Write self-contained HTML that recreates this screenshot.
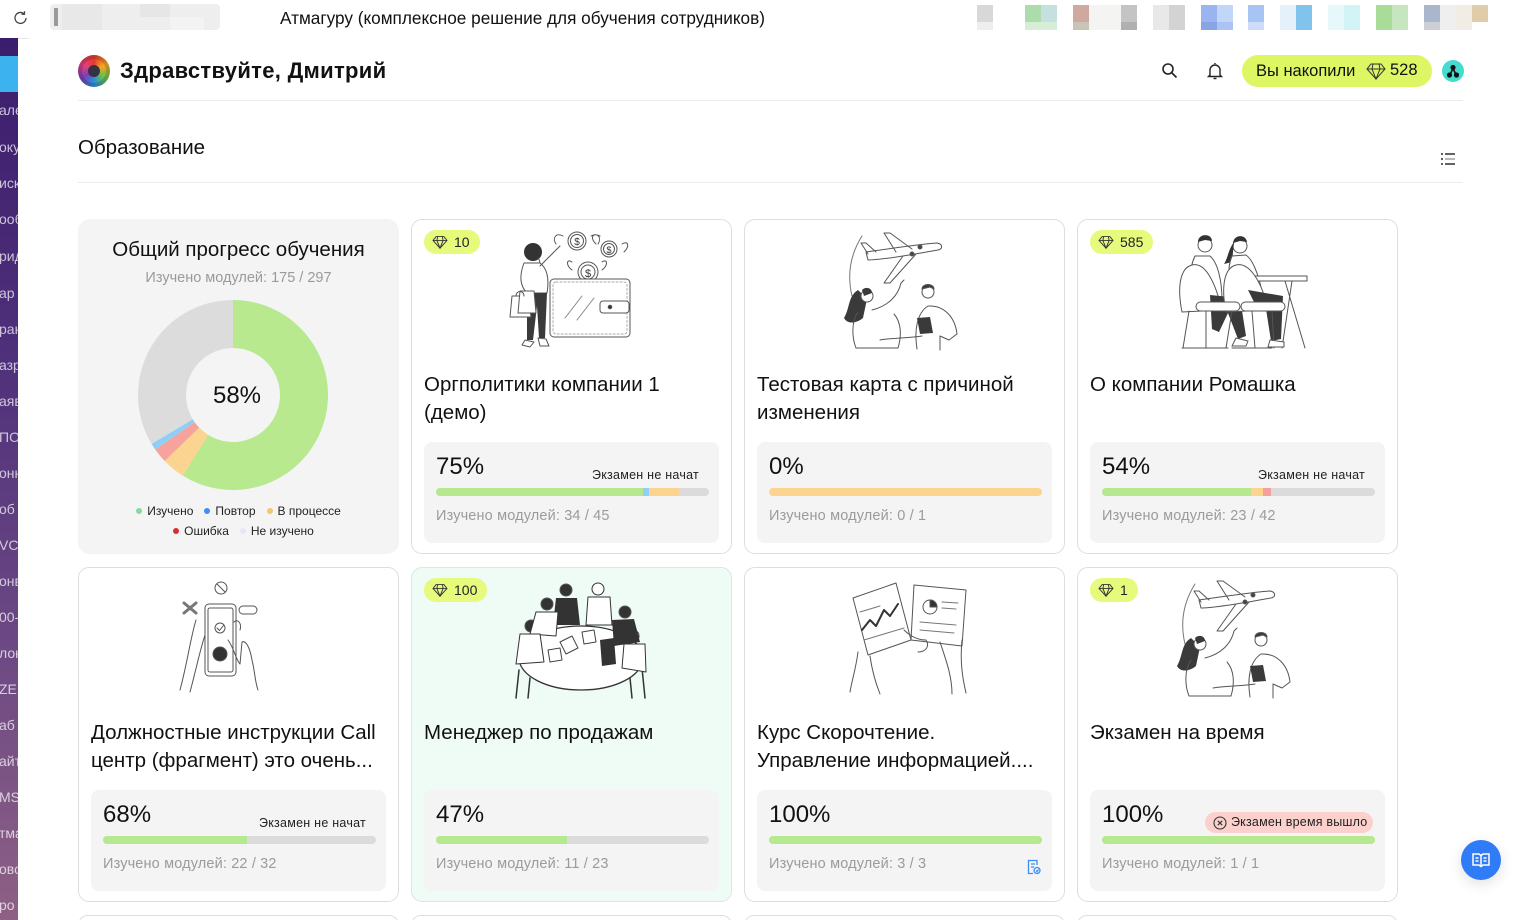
<!DOCTYPE html>
<html><head><meta charset="utf-8">
<style>
*{box-sizing:border-box}
html,body{margin:0;padding:0;width:1515px;height:920px;overflow:hidden}
body{position:relative;background:#fff;font-family:"Liberation Sans","Noto Sans CJK SC",sans-serif;color:#111}
#root{position:absolute;left:0;top:0;width:1515px;height:920px;overflow:hidden}
.abs{position:absolute}
.topbar{position:absolute;left:0;top:0;width:1515px;height:39px;background:#fff;border-bottom:1px solid #e6e6e6}
.side{position:absolute;left:0;top:38px;width:18px;height:882px;background:linear-gradient(180deg,#3a1d6c 0%,#4e2f7a 35%,#6d4a84 70%,#8e6084 100%);overflow:hidden}
.side span{position:absolute;left:-1px;font-size:14px;line-height:16px;color:rgba(255,255,255,.72);white-space:nowrap}
.panel{position:absolute;left:18px;top:38px;width:1497px;height:882px;background:#fff;border-top-left-radius:14px}
.card{position:absolute;width:321px;height:335px;border:1px solid #dedede;border-radius:11px;background:#fff}
.badge{position:absolute;left:12px;top:10px;height:24px;border-radius:12px;background:#e6fa7c;padding:0 10px 0 8px;font-size:14px;line-height:24px;display:flex;align-items:center;gap:6px;color:#222}
.title{position:absolute;left:12px;top:151px;font-size:20.5px;line-height:28px;color:#111;white-space:nowrap}
.pbox{position:absolute;left:12px;top:222px;width:295px;height:101px;background:#f4f4f4;border-radius:8px}
.pct{position:absolute;left:12px;top:11px;font-size:24px;line-height:28px;color:#111}
.exam{position:absolute;right:20px;top:26px;font-size:12.5px;line-height:14px;color:#222;letter-spacing:.25px;white-space:nowrap}
.bar{position:absolute;left:12px;top:46px;width:273px;height:8px;border-radius:4px;background:#dbdbdb;overflow:hidden;display:flex}
.bar i{display:block;height:8px}
.g{background:#b6e98f}.b{background:#8fd0fa}.o{background:#fcd490}.r{background:#f5a19b}
.mods{position:absolute;left:12px;top:65px;font-size:14.5px;line-height:18px;color:#9b9b9b;white-space:nowrap;letter-spacing:.15px}
.leg{position:absolute;left:0;width:321px;display:flex;justify-content:center;gap:11px;font-size:12px;line-height:14px;color:#222}
.leg span{display:flex;align-items:center;gap:5px}
.leg i{display:inline-block;width:6px;height:6px;border-radius:3px}
</style></head>
<body>
<div id="root">
<!-- browser top bar -->
<div class="topbar">
  <svg class="abs" style="left:12px;top:9px" width="18" height="18" viewBox="0 0 18 18" fill="none" stroke="#444" stroke-width="1.3"><path d="M14 9a5.5 5.5 0 1 1-2-4.3"/><path d="M12.5 2.2v3h-3"/></svg>
  <div class="abs" style="left:50px;top:4px;width:170px;height:26px;background:#eeeeee;border-radius:4px"></div>
  <div class="abs" style="left:54px;top:8px;width:4px;height:18px;background:#9a9a9a"></div>
  <div class="abs" style="left:62px;top:4px;width:40px;height:26px;background:#e8e8e8"></div>
  <div class="abs" style="left:140px;top:4px;width:30px;height:13px;background:#e6e6e6"></div>
  <div class="abs" style="left:170px;top:17px;width:34px;height:13px;background:#f3f3f3"></div>
  <div class="abs" style="left:280px;top:8px;font-size:17.2px;line-height:21px;color:#111;white-space:nowrap">Атмагуру (комплексное решение для обучения сотрудников)</div>
  <div class="abs" style="left:977px;top:5px;width:16px;height:17px;background:#d8d8d8"></div><div class="abs" style="left:977px;top:22px;width:16px;height:8px;background:#eee"></div>
  <div class="abs" style="left:1025px;top:5px;width:16px;height:17px;background:#acdcac"></div><div class="abs" style="left:1041px;top:5px;width:16px;height:17px;background:#c6e0e0"></div><div class="abs" style="left:1025px;top:22px;width:32px;height:8px;background:#d6eed6"></div>
  <div class="abs" style="left:1073px;top:5px;width:16px;height:17px;background:#cfa8a0"></div><div class="abs" style="left:1073px;top:22px;width:16px;height:8px;background:#c8c4b8"></div>
  <div class="abs" style="left:1089px;top:5px;width:32px;height:25px;background:#f4f4f2"></div>
  <div class="abs" style="left:1121px;top:5px;width:16px;height:17px;background:#c4c4c4"></div><div class="abs" style="left:1121px;top:22px;width:16px;height:8px;background:#b0b0b0"></div>
  <div class="abs" style="left:1153px;top:5px;width:16px;height:25px;background:#e8e8e8"></div><div class="abs" style="left:1169px;top:5px;width:16px;height:25px;background:#d3d3d3"></div>
  <div class="abs" style="left:1201px;top:5px;width:16px;height:17px;background:#9ab4f2"></div><div class="abs" style="left:1217px;top:5px;width:16px;height:17px;background:#c2d6f8"></div><div class="abs" style="left:1201px;top:22px;width:16px;height:8px;background:#88a4e2"></div><div class="abs" style="left:1217px;top:22px;width:16px;height:8px;background:#aac2f4"></div>
  <div class="abs" style="left:1248px;top:5px;width:16px;height:17px;background:#a8c4f4"></div><div class="abs" style="left:1248px;top:22px;width:16px;height:8px;background:#cddcf8"></div>
  <div class="abs" style="left:1280px;top:5px;width:16px;height:25px;background:#e4f0fa"></div><div class="abs" style="left:1296px;top:5px;width:16px;height:25px;background:#80c4ee"></div>
  <div class="abs" style="left:1328px;top:5px;width:16px;height:25px;background:#e6f8fa"></div><div class="abs" style="left:1344px;top:5px;width:16px;height:25px;background:#d2f4f6"></div>
  <div class="abs" style="left:1376px;top:5px;width:16px;height:25px;background:#a8dc98"></div><div class="abs" style="left:1392px;top:5px;width:16px;height:25px;background:#c6e6c0"></div>
  <div class="abs" style="left:1424px;top:5px;width:16px;height:17px;background:#aab6cc"></div><div class="abs" style="left:1440px;top:5px;width:16px;height:25px;background:#efefef"></div><div class="abs" style="left:1456px;top:5px;width:16px;height:25px;background:#f2ede4"></div><div class="abs" style="left:1472px;top:5px;width:16px;height:17px;background:#e0cca8"></div><div class="abs" style="left:1424px;top:22px;width:16px;height:8px;background:#ccd0d6"></div>
</div>

<!-- sidebar -->
<div class="side">
  <div class="abs" style="left:0;top:18px;width:18px;height:36px;background:#3cb2ee"></div>
  <span style="top:64px">але</span><span style="top:101px">оку</span><span style="top:137px">иск</span><span style="top:173px">ооб</span><span style="top:210px">рид</span><span style="top:247px">ар</span><span style="top:283px">ран</span><span style="top:319px">азр</span><span style="top:355px">аяв</span><span style="top:391px">ПО</span><span style="top:427px">онн</span><span style="top:463px">об</span><span style="top:499px">VC</span><span style="top:535px">онв</span><span style="top:571px">00-</span><span style="top:607px">лок</span><span style="top:643px">ZE</span><span style="top:679px">аб</span><span style="top:715px">айт</span><span style="top:751px">MS</span><span style="top:787px">тма</span><span style="top:823px">ово</span><span style="top:859px">ро</span>
</div>

<div class="panel"></div>

<!-- header -->
<div class="abs" style="left:78px;top:55px;width:32px;height:32px;border-radius:16px;background:conic-gradient(#e63a2e,#f6a623,#6cc04a,#2a8fd8,#7a3fb8,#e0407a,#e63a2e);box-shadow:inset 0 0 0 4px rgba(0,0,0,.15)"></div>
<div class="abs" style="left:88px;top:65px;width:12px;height:12px;border-radius:6px;background:#334"></div>
<div class="abs" style="left:120px;top:58px;font-size:22px;line-height:26px;color:#111;white-space:nowrap;font-weight:700;letter-spacing:.3px">Здравствуйте, Дмитрий</div>
<div class="abs" style="left:78px;top:100px;width:1385px;height:1px;background:#ececec"></div>

<svg class="abs" style="left:1160px;top:61px" width="20" height="20" viewBox="0 0 20 20" fill="none" stroke="#222" stroke-width="1.6"><circle cx="8" cy="8" r="5"/><path d="M12 12l4.5 4.5"/></svg>
<svg class="abs" style="left:1206px;top:61px" width="18" height="20" viewBox="0 0 18 20" fill="none" stroke="#222" stroke-width="1.4"><path d="M4 14V9a5 5 0 0 1 10 0v5l1.5 1.5h-13z"/><path d="M7.5 17.5h3"/><path d="M9 3V2"/></svg>
<div class="abs" style="left:1242px;top:55px;width:190px;height:32px;border-radius:16px;background:#ddf764"></div>
<div class="abs" style="left:1256px;top:61px;font-size:16.5px;line-height:20px;color:#111;white-space:nowrap">Вы накопили</div>
<svg class="abs" style="left:1366px;top:62px" width="20" height="18" viewBox="0 0 20 18" fill="none" stroke="#333" stroke-width="1"><path d="M5 2h10l4 5-9 10L1 7z"/><path d="M1 7h18M7 2L6 7l4 10 4-10-1-5"/></svg>
<div class="abs" style="left:1390px;top:60px;font-size:16.5px;line-height:20px;color:#111">528</div>
<div class="abs" style="left:1442px;top:60px;width:22px;height:22px;border-radius:11px;background:#44dccf"></div>
<svg class="abs" style="left:1442px;top:60px" width="22" height="22" viewBox="0 0 22 22"><path d="M8 15l3-7 3 7" stroke="#111" stroke-width="1.6" fill="none"/><circle cx="7.5" cy="15" r="2.6" fill="#111"/><circle cx="14.5" cy="15" r="2.6" fill="#111"/><circle cx="11" cy="7.5" r="2.6" fill="#111"/></svg>

<div class="abs" style="left:78px;top:136px;font-size:20.5px;line-height:24px;color:#111">Образование</div>
<svg class="abs" style="left:1440px;top:151px" width="18" height="16" viewBox="0 0 18 16"><circle cx="2" cy="3" r="1" fill="#333"/><circle cx="2" cy="8" r="1" fill="#333"/><circle cx="2" cy="13" r="1" fill="#333"/><rect x="5" y="2.3" width="10" height="1.4" fill="#222"/><rect x="5" y="7.3" width="10" height="1.4" fill="#999"/><rect x="5" y="12.3" width="10" height="1.4" fill="#222"/></svg>
<div class="abs" style="left:78px;top:182px;width:1385px;height:1px;background:#ececec"></div>

<!-- donut card -->
<div class="abs" style="left:78px;top:219px;width:321px;height:335px;background:#f4f4f4;border-radius:12px">
  <div class="abs" style="left:0;top:17px;width:321px;text-align:center;font-size:20.5px;line-height:28px;color:#111">Общий прогресс обучения</div>
  <div class="abs" style="left:0;top:50px;width:321px;text-align:center;font-size:14.5px;line-height:18px;color:#9a9a9a">Изучено модулей: 175 / 297</div>
  <div class="leg" style="top:285px"><span><i style="background:#86d9a0"></i>Изучено</span><span><i style="background:#3a8ff6"></i>Повтор</span><span><i style="background:#f8c46c"></i>В процессе</span></div>
  <div class="leg" style="top:305px;left:5px"><span><i style="background:#d9302c"></i>Ошибка</span><span><i style="background:#e2e9f4"></i>Не изучено</span></div>
</div>
<svg class="abs" style="left:0;top:0" width="400" height="560">
  <path d="M233,300 A95,95 0 1 1 182.66,475.56 L208.09,434.86 A47,47 0 1 0 233,348 Z" fill="#b8e98f"/>
  <path d="M182.66,475.56 A95,95 0 0 1 164.67,461.0 L199.19,427.65 A47,47 0 0 0 208.09,434.86 Z" fill="#fad490"/>
  <path d="M164.67,461.0 A95,95 0 0 1 155.18,449.49 L194.50,421.96 A47,47 0 0 0 199.19,427.65 Z" fill="#f6a39e"/>
  <path d="M155.18,449.49 A95,95 0 0 1 151.57,443.93 L192.71,419.21 A47,47 0 0 0 194.50,421.96 Z" fill="#8ecff8"/>
  <path d="M151.57,443.93 A95,95 0 0 1 233,300 L233,348 A47,47 0 0 0 192.71,419.21 Z" fill="#dcdcdc"/>
  <text x="237" y="403" font-size="24" text-anchor="middle" fill="#111" font-family="Liberation Sans, sans-serif">58%</text>
</svg>

<!-- Row 1 -->
<div class="card" style="left:411px;top:219px">
  <div class="badge"><svg width="16" height="14" viewBox="0 0 20 18" fill="none" stroke="#333" stroke-width="1.2"><path d="M5 2h10l4 5-9 10L1 7z"/><path d="M1 7h18M7 2L6 7l4 10 4-10-1-5"/></svg>10</div>
  <div class="title">Оргполитики компании 1<br>(демо)</div>
  <div class="pbox"><div class="pct">75%</div><div class="exam">Экзамен не начат</div>
    <div class="bar"><i class="g" style="width:207px"></i><i class="b" style="width:6px"></i><i class="o" style="width:30px"></i></div>
    <div class="mods">Изучено модулей: 34 / 45</div></div>
</div>
<div class="card" style="left:744px;top:219px">
  <div class="title">Тестовая карта с причиной<br>изменения</div>
  <div class="pbox"><div class="pct">0%</div>
    <div class="bar"><i class="o" style="width:273px"></i></div>
    <div class="mods">Изучено модулей: 0 / 1</div></div>
</div>
<div class="card" style="left:1077px;top:219px">
  <div class="badge"><svg width="16" height="14" viewBox="0 0 20 18" fill="none" stroke="#333" stroke-width="1.2"><path d="M5 2h10l4 5-9 10L1 7z"/><path d="M1 7h18M7 2L6 7l4 10 4-10-1-5"/></svg>585</div>
  <div class="title">О компании Ромашка</div>
  <div class="pbox"><div class="pct">54%</div><div class="exam">Экзамен не начат</div>
    <div class="bar"><i class="g" style="width:149px"></i><i class="o" style="width:12px"></i><i class="r" style="width:8px"></i></div>
    <div class="mods">Изучено модулей: 23 / 42</div></div>
</div>

<!-- Row 2 -->
<div class="card" style="left:78px;top:567px">
  <div class="title">Должностные инструкции Call<br>центр (фрагмент) это очень...</div>
  <div class="pbox"><div class="pct">68%</div><div class="exam">Экзамен не начат</div>
    <div class="bar"><i class="g" style="width:144px"></i></div>
    <div class="mods">Изучено модулей: 22 / 32</div></div>
</div>
<div class="card" style="left:411px;top:567px;background:#eefcf5;border-color:#d6eadf">
  <div class="badge"><svg width="16" height="14" viewBox="0 0 20 18" fill="none" stroke="#333" stroke-width="1.2"><path d="M5 2h10l4 5-9 10L1 7z"/><path d="M1 7h18M7 2L6 7l4 10 4-10-1-5"/></svg>100</div>
  <div class="title">Менеджер по продажам</div>
  <div class="pbox"><div class="pct">47%</div>
    <div class="bar"><i class="g" style="width:131px"></i></div>
    <div class="mods">Изучено модулей: 11 / 23</div></div>
</div>
<div class="card" style="left:744px;top:567px">
  <div class="title">Курс Скорочтение.<br>Управление информацией....</div>
  <div class="pbox"><div class="pct">100%</div>
    <div class="bar"><i class="g" style="width:273px"></i></div>
    <div class="mods">Изучено модулей: 3 / 3</div>
    <svg class="abs" style="left:270px;top:69px" width="14" height="16" viewBox="0 0 14 16" fill="none" stroke="#3d8ef7" stroke-width="1.3"><path d="M10 6V1.5H1.5v13H6"/><path d="M4 5h4M4 8h3"/><circle cx="10" cy="11.5" r="3"/><path d="M9 11.5l1 1 1.5-2"/></svg></div>
</div>
<div class="card" style="left:1077px;top:567px">
  <div class="badge"><svg width="16" height="14" viewBox="0 0 20 18" fill="none" stroke="#333" stroke-width="1.2"><path d="M5 2h10l4 5-9 10L1 7z"/><path d="M1 7h18M7 2L6 7l4 10 4-10-1-5"/></svg>1</div>
  <div class="title">Экзамен на время</div>
  <div class="pbox"><div class="pct">100%</div>
    <div class="abs" style="left:115px;top:22px;width:168px;height:21px;border-radius:10.5px;background:#fbd0cd;font-size:12.5px;line-height:21px;color:#222;padding-left:26px;white-space:nowrap;letter-spacing:.2px">Экзамен время вышло</div>
    <svg class="abs" style="left:123px;top:26px" width="14" height="14" viewBox="0 0 14 14" fill="none" stroke="#333" stroke-width="1.1"><circle cx="7" cy="7" r="6"/><path d="M4.8 4.8l4.4 4.4M9.2 4.8l-4.4 4.4"/></svg>
    <div class="bar"><i class="g" style="width:273px"></i></div>
    <div class="mods">Изучено модулей: 1 / 1</div></div>
</div>

<!-- Row 3 (partially visible) -->
<div class="card" style="left:78px;top:915px;height:20px"></div>
<div class="card" style="left:411px;top:915px;height:20px"></div>
<div class="card" style="left:744px;top:915px;height:20px"></div>
<div class="card" style="left:1077px;top:915px;height:20px"></div>

<!-- FAB -->
<div class="abs" style="left:1461px;top:840px;width:40px;height:40px;border-radius:20px;background:#2f7cf6;box-shadow:0 4px 14px rgba(0,0,0,.12)"></div>
<svg class="abs" style="left:1471px;top:851px" width="20" height="18" viewBox="0 0 20 18" fill="none" stroke="#fff" stroke-width="1.5"><path d="M2 3h6l2 1.5L12 3h6v11h-6l-2 1.5L8 14H2z"/><path d="M10 4.5v11M4.5 7h3M4.5 10h3M12.5 7h3M12.5 10h3"/></svg>

<!-- Illustrations -->
<svg class="abs" style="left:0;top:0" width="1515" height="920" fill="none" stroke="#555" stroke-width="1" stroke-linecap="round" stroke-linejoin="round">
  <!-- wallet card -->
  <g>
    <path d="M563,236 C556,232 552,238 556,244 M591,236 C598,232 602,238 598,244 M596,244 C590,238 592,232 600,236 M622,244 C628,240 630,246 624,252 M572,262 C566,258 566,266 572,270 M602,262 C608,258 608,266 602,270"/>
    <circle cx="577" cy="241" r="9"/><circle cx="577" cy="241" r="6.5"/>
    <circle cx="609" cy="249" r="8"/><circle cx="609" cy="249" r="5.5"/>
    <circle cx="588" cy="272" r="10"/><circle cx="588" cy="272" r="7"/>
    <text x="577" y="245" font-size="10" text-anchor="middle" fill="#333" stroke="none" font-family="Liberation Sans, sans-serif">$</text>
    <text x="609" y="253" font-size="9" text-anchor="middle" fill="#333" stroke="none" font-family="Liberation Sans, sans-serif">$</text>
    <text x="588" y="277" font-size="11" text-anchor="middle" fill="#333" stroke="none" font-family="Liberation Sans, sans-serif">$</text>
    <rect x="550" y="279" width="80" height="58" rx="4" fill="#fff"/>
    <rect x="553" y="282" width="74" height="52" rx="3" stroke="#aaa" stroke-dasharray="2 2"/>
    <rect x="600" y="301" width="29" height="12" rx="3" fill="#fff"/>
    <circle cx="610" cy="307" r="1.8" fill="#333"/>
    <path d="M565,318 L582,296 M577,320 L594,298" stroke="#888"/>
    <circle cx="533" cy="252" r="9" fill="#333" stroke="none"/>
    <path d="M538,258 C541,262 540,266 537,266" />
    <path d="M524,263 C519,276 520,286 527,293 L547,293 C549,281 548,269 540,263 Z" fill="#fff"/>
    <path d="M540,266 L552,254 L560,246"/>
    <path d="M527,293 L547,293 L545,338 L539,338 L537,306 L533,340 L527,340 Z" fill="#3a3a3a" stroke="none"/>
    <path d="M525,340 L534,342 L530,347 L522,345 Z M538,338 L546,339 L549,346 L540,346 Z" fill="#fff"/>
    <path d="M512,296 L528,296 L531,317 L510,317 Z" fill="#fff"/>
    <path d="M520,291 L534,291 L536,313 L518,313 Z" fill="#fff"/>
    <path d="M516,296 C516,290 524,290 524,296"/>
  </g>
  <!-- plane + people -->
  <g id="pp">
    <path d="M862,236 C850,255 847,275 852,296" stroke="#777"/>
    <path d="M866,252 C880,250 920,244 937,243 C943,244 943,249 938,250 C920,253 885,260 868,260 Z" fill="#fff"/>
    <path d="M896,252 L884,233 L890,233 L912,249"/>
    <path d="M903,256 L884,283 L890,283 L916,254"/>
    <path d="M868,254 L861,243 L866,243 L876,252"/>
    <circle cx="912" cy="254" r="2" fill="#444"/><circle cx="920" cy="247" r="2" fill="#444"/>
    <path d="M858,290 C848,296 850,308 844,318 C848,325 857,323 863,318 L867,299 Z" fill="#3a3a3a" stroke="none"/>
    <circle cx="867" cy="296" r="6" fill="#fff"/>
    <path d="M862,290 C866,286 872,288 872,293 L864,296 Z" fill="#3a3a3a" stroke="none"/>
    <path d="M858,312 C851,322 852,338 856,348 L898,348 C902,335 901,322 894,314"/>
    <path d="M872,310 C888,306 898,296 901,283 L904,280"/>
    <path d="M880,340 C890,338 910,338 922,336"/>
    <circle cx="928" cy="292" r="6" fill="#fff"/>
    <path d="M922,289 C922,283 934,283 934,289 L930,287 Z" fill="#3a3a3a"/>
    <path d="M917,349 C914,330 917,313 928,306 C944,305 955,317 957,334 L949,340 L940,336 L940,350"/>
    <path d="M917,318 L930,317 L933,333 L920,334 Z" fill="#3a3a3a" stroke="none"/>
  </g>
  <use href="#pp" transform="translate(333,348)"/>
  <!-- sitting people -->
  <g>
    <circle cx="1205" cy="245" r="7" fill="#fff"/>
    <path d="M1198,242 C1198,233 1212,233 1212,241 L1205,240 Z" fill="#333" stroke="none"/>
    <circle cx="1240" cy="246" r="7" fill="#fff"/>
    <path d="M1233,243 C1234,234 1246,234 1247,242 L1240,241 Z M1234,242 C1228,250 1228,258 1224,264 L1232,262 Z" fill="#333" stroke="none"/>
    <path d="M1195,256 C1188,270 1190,290 1200,301 L1222,301 C1222,281 1218,263 1210,256 Z" fill="#fff"/>
    <path d="M1232,256 C1226,270 1229,290 1240,299 L1262,292 C1258,272 1252,259 1246,255 Z" fill="#fff"/>
    <path d="M1252,276 L1307,276 L1307,281 L1252,281 Z" fill="#fff"/>
    <path d="M1285,281 L1305,348 M1292,281 L1282,348"/>
    <path d="M1182,312 C1177,287 1180,268 1192,265 C1205,262 1215,281 1222,310 Z" fill="#fff"/>
    <path d="M1210,295 L1240,298 L1246,336 L1238,339 L1228,313 L1219,332 L1212,329 Z" fill="#3a3a3a" stroke="none"/>
    <path d="M1226,312 C1221,287 1224,268 1236,265 C1249,262 1262,281 1268,310 Z" fill="#fff"/>
    <path d="M1248,290 L1283,296 L1281,339 L1271,341 L1266,309 L1256,306 Z" fill="#3a3a3a" stroke="none"/>
    <rect x="1196" y="302" width="44" height="9" rx="4.5" fill="#fff"/>
    <rect x="1241" y="302" width="44" height="9" rx="4.5" fill="#fff"/>
    <path d="M1189,311 L1183,348 M1206,311 L1206,348 M1232,311 L1226,348 M1252,311 L1255,348 M1272,311 L1274,348"/>
    <path d="M1182,348 L1228,348 M1232,348 L1272,348"/>
    <path d="M1236,338 L1248,341 L1246,346 L1232,346 Z M1270,340 L1284,342 L1284,347 L1268,347 Z" fill="#fff"/>
  </g>
  <!-- phone -->
  <g>
    <circle cx="221" cy="588" r="6"/><path d="M217,584 L225,592"/>
    <path d="M184,603 L196,613 M196,603 L184,613" stroke-width="3" stroke="#777"/>
    <rect x="239" y="606" width="18" height="8" rx="4"/>
    <rect x="205" y="604" width="31" height="72" rx="4" fill="#fff"/>
    <rect x="208" y="608" width="25" height="64" rx="2"/>
    <circle cx="220" cy="628" r="5"/><path d="M217,628 L219.5,630.5 L223.5,625.5"/>
    <circle cx="220" cy="654" r="7" fill="#333"/>
    <path d="M196,620 C190,640 188,660 180,690 M205,635 C200,650 196,670 190,692"/>
    <path d="M228,640 C234,648 236,660 240,664 L242,642 C246,640 250,648 252,660 C255,672 255,682 258,690"/>
    <path d="M234,622 C238,618 242,624 240,630"/>
  </g>
  <!-- meeting -->
  <g>
    <ellipse cx="581" cy="658" rx="62" ry="32" fill="#fff" stroke="#333" stroke-width="1.3"/>
    <path d="M519,670 L516,698 M530,678 L528,698 M630,678 L632,698 M642,668 L645,698" stroke="#333" stroke-width="1.5"/>
    <circle cx="566" cy="590" r="6" fill="#333"/><circle cx="598" cy="589" r="6" fill="#fff" stroke="#333"/><circle cx="547" cy="604" r="6" fill="#333"/><circle cx="625" cy="612" r="6" fill="#333"/><circle cx="531" cy="626" r="6" fill="#333"/><circle cx="633" cy="636" r="6" fill="#fff" stroke="#333"/>
    <path d="M556,598 L577,598 L580,625 L553,625 Z" fill="#333" stroke="none"/>
    <path d="M588,597 L610,597 L612,625 L586,625 Z" fill="#fff" stroke="#333"/>
    <path d="M612,620 L634,619 L640,642 L614,646 Z" fill="#333" stroke="none"/>
    <path d="M536,612 L558,612 L556,636 L530,634 Z" fill="#fff" stroke="#333"/>
    <path d="M520,634 L540,634 L544,662 L516,664 Z" fill="#fff" stroke="#333"/>
    <path d="M624,644 L645,644 L646,672 L622,668 Z" fill="#fff" stroke="#333"/>
    <path d="M600,640 L614,638 L616,664 L602,666 Z" fill="#333" stroke="none"/>
    <path d="M560,642 L572,636 L578,648 L566,654 Z M582,632 L594,630 L596,642 L584,644 Z M548,650 L560,648 L562,660 L550,662 Z" fill="#fff" stroke="#444"/>
  </g>
  <!-- documents -->
  <g>
    <path d="M853,598 L896,583 L911,640 L868,655 Z" fill="#fff"/>
    <path d="M862,630 L870,620 L876,626 L884,610 L890,616 L898,604" stroke="#333" stroke-width="2"/>
    <path d="M860,612 L880,606 M864,640 L904,628" stroke="#777"/>
    <path d="M914,585 L966,590 L962,646 L911,640 Z" fill="#fff"/>
    <circle cx="930" cy="607" r="7"/><path d="M930,607 L930,600 A7,7 0 0 1 937,607 Z" fill="#333"/>
    <path d="M942,602 L958,603 M942,608 L956,609 M920,622 L956,625 M920,630 L954,633" stroke="#777"/>
    <path d="M858,652 C856,668 852,680 850,692 M870,656 C872,670 876,684 880,694"/>
    <path d="M940,642 C946,660 952,676 952,694 M962,640 C960,660 962,676 966,693"/>
    <path d="M904,630 C910,636 918,640 926,640 C930,646 926,652 918,652"/>
  </g>
</svg>
</div>
</body></html>
